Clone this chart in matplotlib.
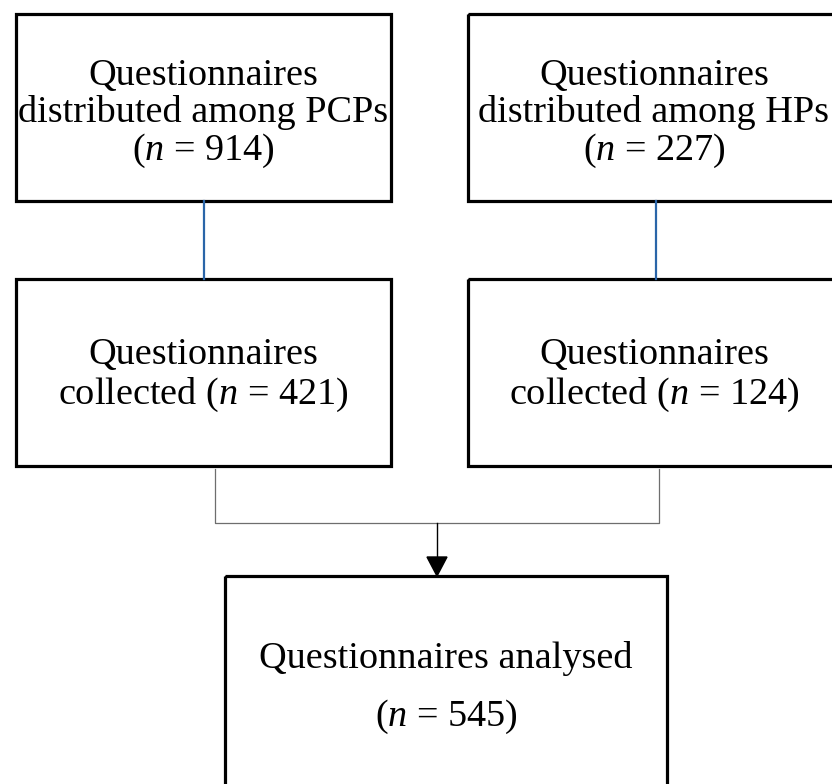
import matplotlib
matplotlib.use("Agg")
import matplotlib.pyplot as plt
from matplotlib.patches import Rectangle, Polygon

plt.rcParams['font.family'] = ['Liberation Serif', 'DejaVu Serif']
plt.rcParams['mathtext.fontset'] = 'custom'
plt.rcParams['mathtext.rm'] = 'Liberation Serif'
plt.rcParams['mathtext.it'] = 'Liberation Serif:italic'

# box texts and counts
groups = ["PCPs", "HPs"]
distributed = [914, 227]
collected = [421, 124]
analysed = 545

fig = plt.figure(figsize=(8.32, 7.84), dpi=100)
ax = fig.add_axes([0, 0, 1, 1])
ax.set_xlim(0, 832)
ax.set_ylim(784, 0)
ax.axis("off")

fs = 27.5
lw_box = 2.3


def box(x0, y0, x1, y1):
    ax.add_patch(Rectangle((x0, y0), x1 - x0, y1 - y0, fill=False,
                           edgecolor="black", linewidth=lw_box, clip_on=True))


cols = [(16, 391), (468, 845)]
centers = [203, 654]
for (x0, x1), cx, g, nd, nc in zip(cols, centers, groups, distributed, collected):
    box(x0, 14, x1, 201)
    box(x0, 279, x1, 466)
    ax.text(cx, 114, f"Questionnaires\ndistributed among {g}\n($n$ = {nd})",
            ha="center", va="center", fontsize=fs, linespacing=1.07)
    ax.text(cx, 376, f"Questionnaires\ncollected ($n$ = {nc})",
            ha="center", va="center", fontsize=fs, linespacing=1.12)

# blue links
ax.plot([204, 204], [201, 279], color="#2a65a8", lw=1.6)
ax.plot([656, 656], [201, 279], color="#2a65a8", lw=1.6)

# merge connector
ax.plot([215, 215, 659, 659], [469, 523, 523, 469], color="#6e6e6e", lw=0.9)
ax.plot([437, 437], [523, 560], color="black", lw=1.0)
ax.add_patch(Polygon([[427, 557], [447, 557], [437, 576]], closed=True,
                     facecolor="black", edgecolor="black"))

# bottom box
box(225, 576, 667, 800)
ax.text(446, 658, "Questionnaires analysed", ha="center", va="center", fontsize=fs)
ax.text(446, 717, f"($n$ = {analysed})", ha="center", va="center", fontsize=fs)

fig.savefig("out.png", dpi=100, facecolor="white")
